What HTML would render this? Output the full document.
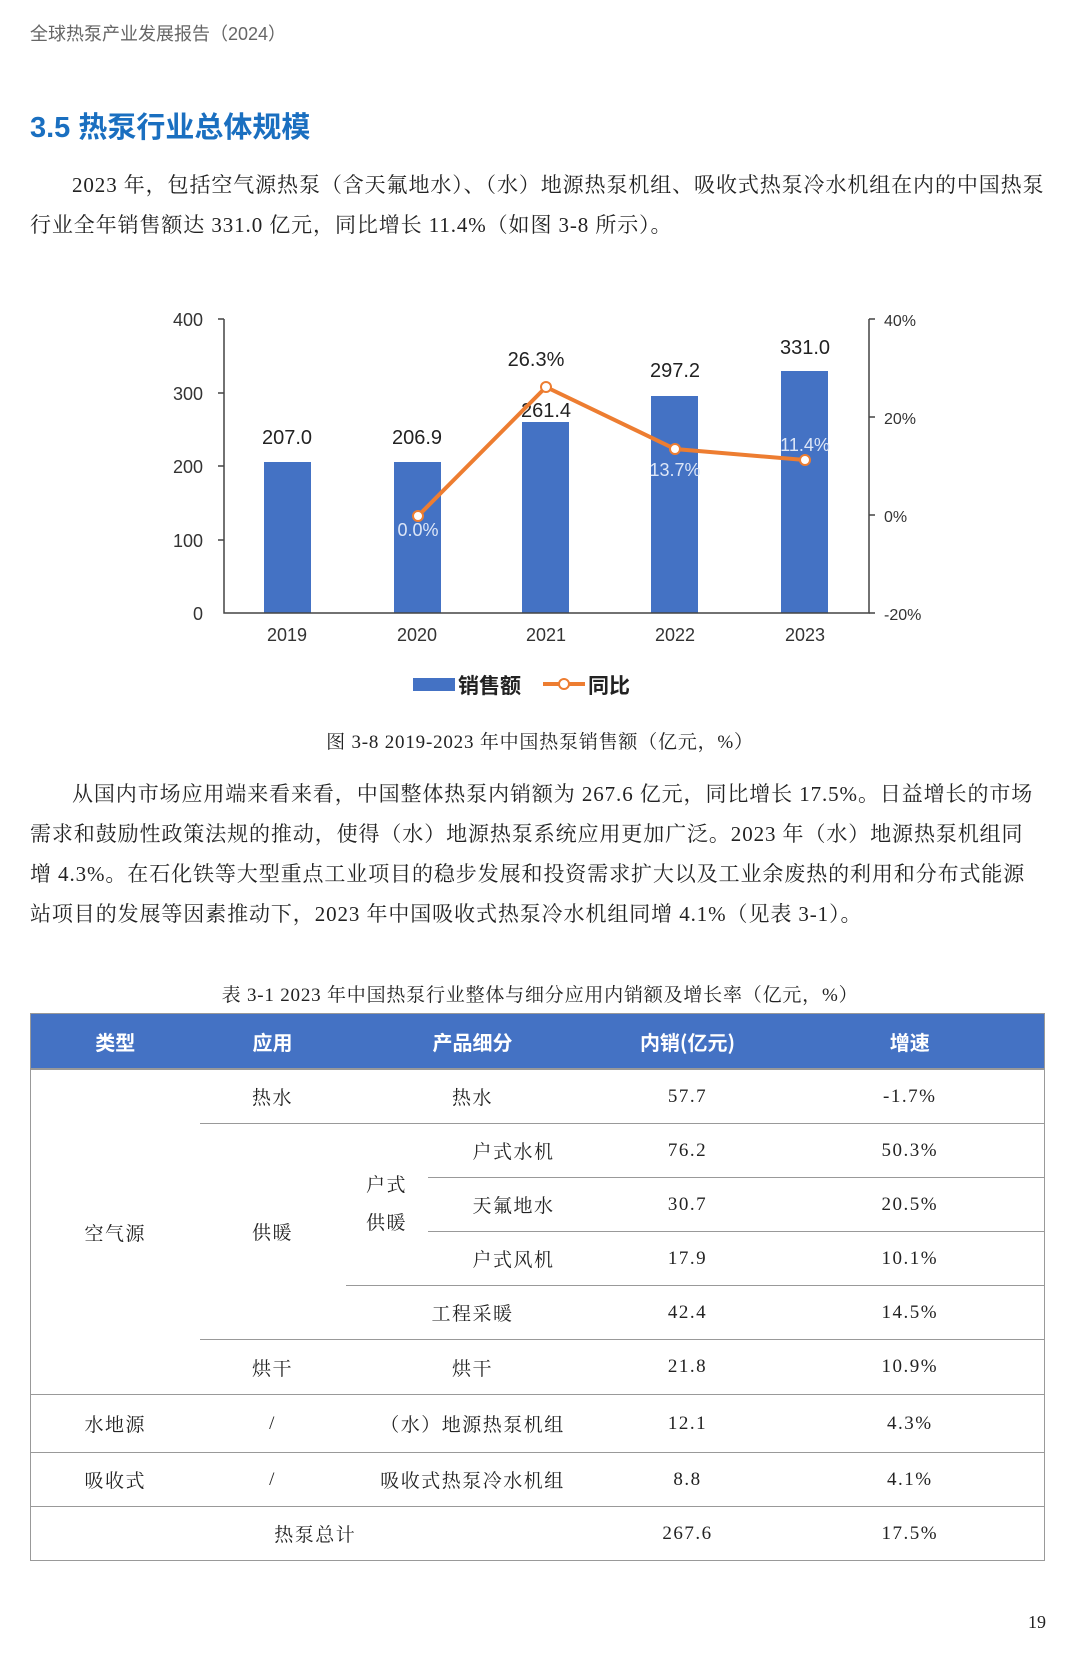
<!DOCTYPE html>
<html><head><meta charset="utf-8"><style>
body{margin:0;width:1080px;height:1654px;background:#fff;position:relative;overflow:hidden;font-family:"Liberation Serif","Noto Serif CJK SC",serif;color:#222}
.a{position:absolute;white-space:nowrap}
.p{font-size:21px;left:30px;letter-spacing:0.9px}
table{position:absolute;left:30px;top:1013px;width:1015px;border-collapse:collapse;font-size:19px;border:1.5px solid #999}
td,th{text-align:center;padding:0}
th{background:#4472c4;color:#fff;font-weight:bold;height:54px;font-family:"Noto Sans CJK SC",sans-serif;font-size:20px;border-bottom:2px solid #999}
td{height:53px;letter-spacing:1.5px}
.b{border-bottom:1.5px solid #999}
</style></head><body>
<div class="a" style="left:30px;top:20px;font-size:18px;color:#666;font-family:'Liberation Sans','Noto Sans CJK SC',sans-serif">全球热泵产业发展报告（2024）</div>
<div class="a" style="left:30px;top:104px;font-size:29px;font-weight:bold;color:#1a6fc0;font-family:'Liberation Sans','Noto Sans CJK SC',sans-serif">3.5 热泵行业总体规模</div>
<div class="a p" style="top:169px;left:72px">2023 年，包括空气源热泵（含天氟地水）、（水）地源热泵机组、吸收式热泵冷水机组在内的中国热泵</div>
<div class="a p" style="top:209px">行业全年销售额达 331.0 亿元，同比增长 11.4%（如图 3-8 所示）。</div>
<svg class="a" style="left:0;top:0" width="1080" height="760" font-family="Liberation Sans,sans-serif">
<g fill="#4472c4"><rect x="264" y="462" width="47" height="151"/><rect x="394" y="462" width="47" height="151"/><rect x="522" y="422" width="47" height="191"/><rect x="651" y="396" width="47" height="217"/><rect x="781" y="371" width="47" height="242"/></g>
<g stroke="#444" stroke-width="1.5" fill="none"><path d="M224 319V613H869V319"/><path d="M218 319h6M218 393h6M218 466h6M218 540h6M869 319h6M869 417h6M869 515h6M869 613h6"/></g>
<g font-size="18" fill="#333" text-anchor="end"><text x="203" y="326">400</text><text x="203" y="400">300</text><text x="203" y="473">200</text><text x="203" y="547">100</text><text x="203" y="620">0</text></g>
<g font-size="16" fill="#333"><text x="884" y="326">40%</text><text x="884" y="424">20%</text><text x="884" y="522">0%</text><text x="884" y="620">-20%</text></g>
<g font-size="18" fill="#333" text-anchor="middle"><text x="287" y="641">2019</text><text x="417" y="641">2020</text><text x="546" y="641">2021</text><text x="675" y="641">2022</text><text x="805" y="641">2023</text></g>
<g font-size="20" fill="#222" text-anchor="middle"><text x="287" y="444">207.0</text><text x="417" y="444">206.9</text><text x="546" y="417">261.4</text><text x="675" y="377">297.2</text><text x="805" y="354">331.0</text><text x="536" y="366">26.3%</text></g>
<polyline points="418,516 546,387 675,449 805,460" fill="none" stroke="#ed7d31" stroke-width="4"/>
<g fill="#fff" stroke="#ed7d31" stroke-width="2"><circle cx="418" cy="516" r="5"/><circle cx="546" cy="387" r="5"/><circle cx="675" cy="449" r="5"/><circle cx="805" cy="460" r="5"/></g>
<g font-size="18" fill="#dde6f7" text-anchor="middle"><text x="418" y="536">0.0%</text><text x="675" y="476">13.7%</text><text x="805" y="451">11.4%</text></g>
<rect x="413" y="678" width="42" height="13" fill="#4472c4"/>
<text x="458" y="693" font-size="21" fill="#222" font-weight="bold" font-family="Noto Sans CJK SC,sans-serif">销售额</text>
<line x1="543" y1="684" x2="585" y2="684" stroke="#ed7d31" stroke-width="4"/><circle cx="564" cy="684" r="5" fill="#fff" stroke="#ed7d31" stroke-width="2"/>
<text x="588" y="693" font-size="21" fill="#222" font-weight="bold" font-family="Noto Sans CJK SC,sans-serif">同比</text>
</svg>
<div class="a" style="left:0;width:1080px;text-align:center;top:727px;font-size:19px;letter-spacing:0.8px">图 3-8  2019-2023 年中国热泵销售额（亿元，%）</div>
<div class="a p" style="top:778px;left:72px">从国内市场应用端来看来看，中国整体热泵内销额为 267.6 亿元，同比增长 17.5%。日益增长的市场</div>
<div class="a p" style="top:818px">需求和鼓励性政策法规的推动，使得（水）地源热泵系统应用更加广泛。2023 年（水）地源热泵机组同</div>
<div class="a p" style="top:858px">增 4.3%。在石化铁等大型重点工业项目的稳步发展和投资需求扩大以及工业余废热的利用和分布式能源</div>
<div class="a p" style="top:898px">站项目的发展等因素推动下，2023 年中国吸收式热泵冷水机组同增 4.1%（见表 3-1）。</div>
<div class="a" style="left:0;width:1080px;text-align:center;top:980px;font-size:19px;letter-spacing:0.8px">表 3-1  2023 年中国热泵行业整体与细分应用内销额及增长率（亿元，%）</div>
<table>
<colgroup><col style="width:169px"><col style="width:146px"><col style="width:82px"><col style="width:172px"><col style="width:176px"><col></colgroup>
<tr><th>类型</th><th>应用</th><th colspan="2">产品细分</th><th>内销(亿元)</th><th>增速</th></tr>
<tr><td rowspan="6" class="b">空气源</td><td class="b">热水</td><td colspan="2" class="b">热水</td><td class="b">57.7</td><td class="b">-1.7%</td></tr>
<tr><td rowspan="4" class="b">供暖</td><td rowspan="3" class="b" style="line-height:38px">户式<br>供暖</td><td class="b">户式水机</td><td class="b">76.2</td><td class="b">50.3%</td></tr>
<tr><td class="b">天氟地水</td><td class="b">30.7</td><td class="b">20.5%</td></tr>
<tr><td class="b">户式风机</td><td class="b">17.9</td><td class="b">10.1%</td></tr>
<tr><td colspan="2" class="b">工程采暖</td><td class="b">42.4</td><td class="b">14.5%</td></tr>
<tr><td class="b" style="height:54px">烘干</td><td colspan="2" class="b">烘干</td><td class="b">21.8</td><td class="b">10.9%</td></tr>
<tr><td class="b" style="height:57px">水地源</td><td class="b">/</td><td colspan="2" class="b">（水）地源热泵机组</td><td class="b">12.1</td><td class="b">4.3%</td></tr>
<tr><td class="b">吸收式</td><td class="b">/</td><td colspan="2" class="b">吸收式热泵冷水机组</td><td class="b">8.8</td><td class="b">4.1%</td></tr>
<tr><td colspan="4">热泵总计</td><td>267.6</td><td>17.5%</td></tr>
</table>
<div class="a" style="left:1028px;top:1612px;font-size:18px">19</div>
</body></html>
